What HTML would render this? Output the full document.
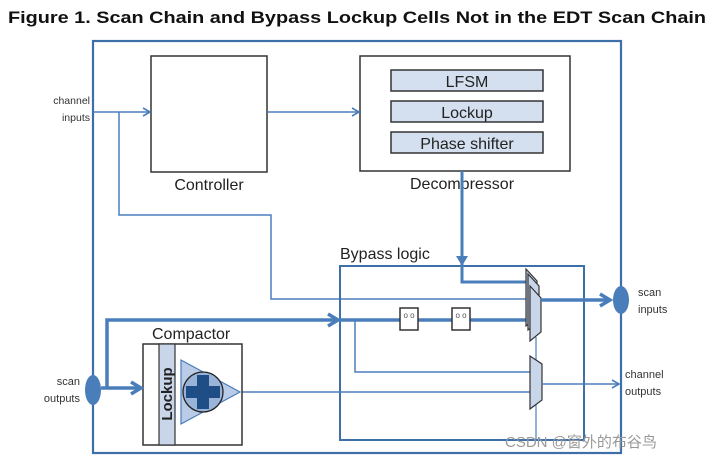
<!DOCTYPE html>
<html><head><meta charset="utf-8"><style>
html,body{margin:0;padding:0;background:#fff;width:712px;height:463px;overflow:hidden}
svg{display:block}
text{font-family:"Liberation Sans","Noto Sans CJK SC",sans-serif}
</style></head><body>
<svg width="712" height="463" viewBox="0 0 712 463" xmlns="http://www.w3.org/2000/svg">
<defs>
<marker id="a" markerWidth="10" markerHeight="10" refX="8" refY="5" orient="auto" markerUnits="userSpaceOnUse"><path d="M1,1 L8,5 L1,9" fill="none" stroke="#4a7ebb" stroke-width="1.6"/></marker>
<marker id="b" markerWidth="16" markerHeight="16" refX="12" refY="8" orient="auto" markerUnits="userSpaceOnUse"><path d="M2,2 L12,8 L2,14" fill="none" stroke="#4a7ebb" stroke-width="3.5"/></marker>
<marker id="c" markerWidth="14" markerHeight="14" refX="12" refY="7" orient="auto" markerUnits="userSpaceOnUse"><path d="M2,1 L12,7 L2,13 Z" fill="#4a7ebb"/></marker>
</defs>
<text x="8" y="23" font-size="17" font-weight="bold" fill="#111" textLength="698" lengthAdjust="spacingAndGlyphs">Figure 1. Scan Chain and Bypass Lockup Cells Not in the EDT Scan Chain</text>
<rect x="93" y="41" width="528" height="412" fill="none" stroke="#3d6fa8" stroke-width="2.2"/>
<rect x="151" y="56" width="116" height="116" fill="#fff" stroke="#333" stroke-width="1.5"/>
<text x="209" y="190" font-size="16" text-anchor="middle" fill="#222">Controller</text>
<rect x="360" y="56" width="210" height="115" fill="#fff" stroke="#333" stroke-width="1.5"/>
<rect x="391" y="70" width="152" height="21" fill="#d4e0ef" stroke="#333" stroke-width="1.5"/>
<rect x="391" y="101" width="152" height="21" fill="#d4e0ef" stroke="#333" stroke-width="1.5"/>
<rect x="391" y="132" width="152" height="21" fill="#d4e0ef" stroke="#333" stroke-width="1.5"/>
<text x="467" y="87" font-size="16" text-anchor="middle" fill="#222">LFSM</text>
<text x="467" y="118" font-size="16" text-anchor="middle" fill="#222">Lockup</text>
<text x="467" y="149" font-size="16" text-anchor="middle" fill="#222">Phase shifter</text>
<text x="462" y="189" font-size="16" text-anchor="middle" fill="#222">Decompressor</text>
<text x="90" y="104" font-size="10.5" text-anchor="end" fill="#333">channel</text>
<text x="90" y="121" font-size="10.5" text-anchor="end" fill="#333">inputs</text>
<line x1="93" y1="112" x2="150" y2="112" stroke="#4a7ebb" stroke-width="1.5" marker-end="url(#a)"/>
<line x1="267" y1="112" x2="359" y2="112" stroke="#4a7ebb" stroke-width="1.5" marker-end="url(#a)"/>
<polyline points="119,112 119,215 271,215 271,299 528,299" fill="none" stroke="#4a7ebb" stroke-width="1.5"/>
<text x="340" y="259" font-size="16" fill="#222">Bypass logic</text>
<rect x="340" y="266" width="244" height="174" fill="none" stroke="#3d6fa8" stroke-width="2"/>
<line x1="462" y1="171" x2="462" y2="266" stroke="#4a7ebb" stroke-width="3" marker-end="url(#c)"/>
<polyline points="462,264 462,282 528,282" fill="none" stroke="#4a7ebb" stroke-width="3"/>
<polyline points="107,388 107,320 338,320" fill="none" stroke="#4a7ebb" stroke-width="3.5" marker-end="url(#b)"/>
<line x1="338" y1="320" x2="528" y2="320" stroke="#4a7ebb" stroke-width="3.5"/>
<rect x="400" y="308" width="18" height="22" fill="#fff" stroke="#333" stroke-width="1.5"/>
<rect x="452" y="308" width="18" height="22" fill="#fff" stroke="#333" stroke-width="1.5"/>
<text x="409" y="318" font-size="8" text-anchor="middle" fill="#555">o o</text>
<text x="461" y="318" font-size="8" text-anchor="middle" fill="#555">o o</text>
<polygon points="526,269 537,281 537,318 526,326" fill="#c9d6ea" stroke="#333" stroke-width="1.2"/>
<polygon points="528,274 539,286 539,322 528,330" fill="#c9d6ea" stroke="#333" stroke-width="1.2"/>
<polygon points="530,286 541,298 541,332 530,341" fill="#c9d6ea" stroke="#333" stroke-width="1.2"/>
<line x1="536" y1="337" x2="536" y2="440" stroke="#4a7ebb" stroke-width="1.2"/>
<line x1="541" y1="300" x2="610" y2="300" stroke="#4a7ebb" stroke-width="3.5" marker-end="url(#b)"/>
<ellipse cx="621" cy="300" rx="8" ry="14" fill="#4a7ebb"/>
<text x="638" y="296" font-size="11" fill="#333">scan</text>
<text x="638" y="313" font-size="11" fill="#333">inputs</text>
<polyline points="355,320 355,372 530,372" fill="none" stroke="#4a7ebb" stroke-width="1.5"/>
<line x1="240" y1="392" x2="530" y2="392" stroke="#4a7ebb" stroke-width="1.5"/>
<polygon points="530,356 542,364 542,400 530,409" fill="#c9d6ea" stroke="#333" stroke-width="1.2"/>
<line x1="542" y1="384" x2="619" y2="384" stroke="#4a7ebb" stroke-width="1.5" marker-end="url(#a)"/>
<text x="625" y="378" font-size="11" fill="#333">channel</text>
<text x="625" y="395" font-size="11" fill="#333">outputs</text>
<text x="152" y="339" font-size="16" fill="#222">Compactor</text>
<rect x="143" y="344" width="99" height="101" fill="#fff" stroke="#333" stroke-width="1.5"/>
<rect x="159" y="344" width="16" height="101" fill="#c9d6ea" stroke="#333" stroke-width="1.2"/>
<text transform="translate(172,394) rotate(-90)" font-size="15" font-weight="bold" text-anchor="middle" fill="#222">Lockup</text>
<polygon points="181,360 240,392 181,424" fill="#b9cbe6" stroke="#4a7ebb" stroke-width="1.2"/>
<circle cx="203" cy="392" r="20" fill="#9ab3d8" stroke="#222" stroke-width="1.3"/>
<rect x="197" y="375" width="12" height="34" fill="#1f4e86"/>
<rect x="186" y="386" width="34" height="12" fill="#1f4e86"/>
<line x1="101" y1="388" x2="141" y2="388" stroke="#4a7ebb" stroke-width="3.5" marker-end="url(#b)"/>
<ellipse cx="93" cy="390" rx="8" ry="15" fill="#4a7ebb"/>
<text x="80" y="385" font-size="11" text-anchor="end" fill="#333">scan</text>
<text x="80" y="402" font-size="11" text-anchor="end" fill="#333">outputs</text>
<text x="505" y="447" font-size="15" fill="#999">CSDN @窗外的布谷鸟</text>
</svg>
</body></html>
